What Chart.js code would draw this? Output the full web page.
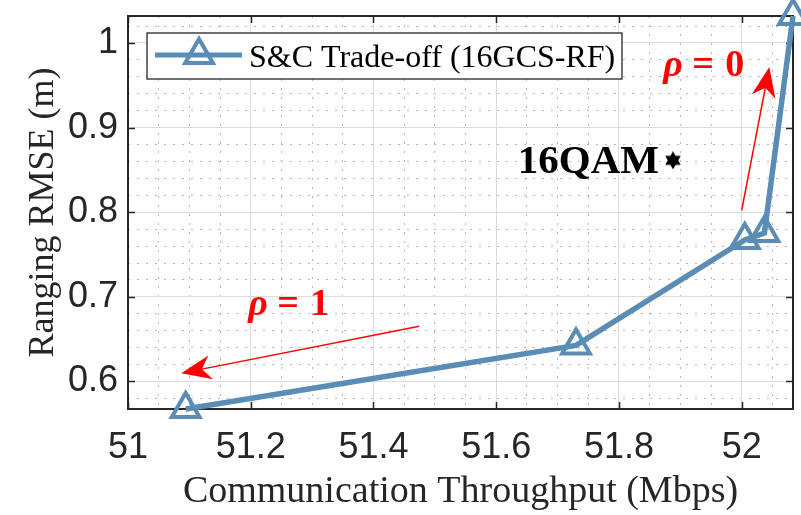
<!DOCTYPE html>
<html>
<head>
<meta charset="utf-8">
<script src="https://cdn.jsdelivr.net/npm/chart.js@4"></script>
<style>
  html, body { margin: 0; padding: 0; background: #fff; }
  #wrap { width: 801px; height: 515px; }
</style>
</head>
<body>
<div id="wrap"><canvas id="myChart" width="801" height="515"></canvas></div>
<script>
// data
const throughput = [51.094, 51.730, 52.005, 52.037, 52.0836]
const rmse = [0.5675, 0.6426, 0.7673, 0.7755, 1.0319]
const qamThroughput = [51.888]
const qamRmse = [0.8613]
const xTicks = [51, 51.2, 51.4, 51.6, 51.8, 52]
const yTicks = [0.6, 0.7, 0.8, 0.9, 1]
const seriesLabel = 'S&C Trade-off (16GCS-RF)'

const axisColor = '#262626'
const lineColor = '#5a8cb5'

// axis limits are tight on the data (x starts at 51)
const xMin = 51
const xMax = Math.max(...throughput)
const yMin = Math.min(...rmse)
const yMax = Math.max(...rmse)

function hexagram(size) {
  const c = document.createElement('canvas')
  c.width = c.height = size
  const g = c.getContext('2d')
  const r = size / 2
  g.fillStyle = '#000'
  for (const rot of [-Math.PI / 2, Math.PI / 2]) {
    g.beginPath()
    for (let i = 0; i < 3; i++) {
      const a = rot + i * 2 * Math.PI / 3
      g.lineTo(r + r * Math.cos(a), r + r * Math.sin(a))
    }
    g.closePath()
    g.fill()
  }
  return c
}

function arrow(ctx, x0, y0, x1, y1) {
  const dx = x1 - x0, dy = y1 - y0
  const len = Math.hypot(dx, dy)
  const ux = dx / len, uy = dy / len
  const L = 30, W = 12
  ctx.beginPath()
  ctx.moveTo(x0, y0)
  ctx.lineTo(x1 - ux * L * 0.7, y1 - uy * L * 0.7)
  ctx.stroke()
  ctx.beginPath()
  ctx.moveTo(x1, y1)
  ctx.lineTo(x1 - ux * L - uy * W, y1 - uy * L + ux * W)
  ctx.lineTo(x1 - ux * L * 0.7, y1 - uy * L * 0.7)
  ctx.lineTo(x1 - ux * L + uy * W, y1 - uy * L - ux * W)
  ctx.closePath()
  ctx.fill()
}

function rhoLabel(ctx, x, y, value) {
  ctx.textBaseline = 'alphabetic'
  ctx.textAlign = 'left'
  ctx.font = 'italic bold 38px "Liberation Serif"'
  ctx.fillText('ρ', x, y)
  ctx.font = 'bold 38px "Liberation Serif"'
  ctx.fillText('=', x + 29, y)
  ctx.fillText(value, x + 62, y)
}

const frame = {
  id: 'frame',
  beforeDatasetsDraw(chart) {
    const {ctx, chartArea: a, scales: {x, y}} = chart
    ctx.save()
    ctx.strokeStyle = axisColor
    ctx.lineWidth = 1.5
    ctx.beginPath()
    xTicks.forEach(v => {
      const px = Math.round(x.getPixelForValue(v)) + 0.5
      ctx.moveTo(px, a.bottom); ctx.lineTo(px, a.bottom - 7)
      ctx.moveTo(px, a.top); ctx.lineTo(px, a.top + 7)
    })
    yTicks.forEach(v => {
      const py = Math.round(y.getPixelForValue(v)) + 0.5
      ctx.moveTo(a.left, py); ctx.lineTo(a.left + 7, py)
      ctx.moveTo(a.right, py); ctx.lineTo(a.right - 7, py)
    })
    ctx.stroke()
    ctx.lineWidth = 2
    ctx.strokeRect(a.left, a.top, a.right - a.left, a.bottom - a.top)
    ctx.restore()
  },
  afterDatasetsDraw(chart) {
    const {ctx, chartArea: a, scales: {x, y}} = chart
    ctx.save()
    ctx.strokeStyle = '#ff0000'
    ctx.fillStyle = '#ff0000'
    ctx.lineWidth = 1.5
    arrow(ctx, x.getPixelForValue(51.4746), y.getPixelForValue(0.6654),
      x.getPixelForValue(51.0868), y.getPixelForValue(0.6098))
    arrow(ctx, x.getPixelForValue(52.0), y.getPixelForValue(0.8022),
      x.getPixelForValue(52.045), y.getPixelForValue(0.9716))
    rhoLabel(ctx, x.getPixelForValue(51.196), y.getPixelForValue(0.678), '1')
    rhoLabel(ctx, x.getPixelForValue(51.872), y.getPixelForValue(0.9607), '0')

    // 16QAM label next to its marker
    ctx.fillStyle = '#000'
    ctx.font = 'bold 41px "Liberation Serif"'
    ctx.textAlign = 'right'
    ctx.textBaseline = 'alphabetic'
    ctx.fillText('16QAM', x.getPixelForValue(qamThroughput[0]) - 14, y.getPixelForValue(qamRmse[0]) + 13)

    // legend box
    const lx = a.left + 19, ly = a.top + 17, lw = 475, lh = 46
    ctx.fillStyle = '#fff'
    ctx.fillRect(lx, ly, lw, lh)
    ctx.strokeStyle = axisColor
    ctx.lineWidth = 1.3
    ctx.strokeRect(lx, ly, lw, lh)
    const cy = ly + 22
    ctx.strokeStyle = lineColor
    ctx.lineWidth = 5
    ctx.beginPath()
    ctx.moveTo(lx + 8, cy); ctx.lineTo(lx + 95, cy)
    ctx.stroke()
    const r = 16, tx = lx + 52
    ctx.lineWidth = 4
    ctx.lineJoin = 'miter'
    ctx.beginPath()
    ctx.moveTo(tx, cy - r)
    ctx.lineTo(tx + r * 0.866, cy + r / 2)
    ctx.lineTo(tx - r * 0.866, cy + r / 2)
    ctx.closePath()
    ctx.stroke()
    ctx.fillStyle = '#000'
    ctx.font = '32px "Liberation Serif"'
    ctx.textAlign = 'left'
    ctx.textBaseline = 'alphabetic'
    ctx.fillText(seriesLabel, lx + 102, ly + 34)
    ctx.restore()
  }
}

const noPad = s => { s.paddingTop = 0; s.paddingBottom = 0; s.paddingLeft = 0; s.paddingRight = 0 }

const ctx = document.getElementById('myChart')

new Chart(ctx, {
  type: 'line',
  data: {
    datasets: [{
      label: seriesLabel,
      data: throughput.map((v, i) => ({x: v, y: rmse[i]})),
      borderColor: lineColor,
      borderWidth: 5.5,
      pointStyle: 'triangle',
      pointRadius: 16,
      pointBorderWidth: 4,
      pointBackgroundColor: 'rgba(0,0,0,0)',
      pointBorderColor: lineColor,
      tension: 0,
      clip: false
    }, {
      label: '16QAM',
      data: qamThroughput.map((v, i) => ({x: v, y: qamRmse[i]})),
      showLine: false,
      pointStyle: hexagram(18),
      pointRadius: 9,
      clip: false
    }]
  },
  options: {
    responsive: false,
    animation: false,
    events: [],
    layout: { autoPadding: false, padding: { top: 16, right: 8, bottom: 0, left: 0 } },
    plugins: { legend: { display: false }, tooltip: { enabled: false } },
    scales: {
      xMinor: {
        type: 'linear', position: 'bottom', min: xMin, max: xMax,
        ticks: { display: false, stepSize: 0.05, includeBounds: false },
        grid: { color: '#b8b8b8', drawTicks: false, lineWidth: 1 },
        border: { display: false, dash: [2, 7] },
        afterFit: s => { s.height = 0; noPad(s) }
      },
      yMinor: {
        type: 'linear', position: 'left', min: yMin, max: yMax,
        ticks: { display: false, stepSize: 0.02, includeBounds: false },
        grid: { color: '#b8b8b8', drawTicks: false, lineWidth: 1 },
        border: { display: false, dash: [2, 7] },
        afterFit: s => { s.width = 0; noPad(s) }
      },
      x: {
        type: 'linear', position: 'bottom', min: xMin, max: xMax,
        afterBuildTicks: s => { s.ticks = xTicks.map(v => ({value: v})) },
        afterFit: s => { s.height = 106; noPad(s) },
        ticks: {
          font: { family: 'Liberation Sans', size: 36, lineHeight: 1 },
          color: axisColor, padding: 21,
          callback: v => String(+v.toFixed(1))
        },
        grid: { color: '#dcdcdc', drawTicks: false, lineWidth: 1 },
        border: { display: false },
        title: {
          display: true, text: 'Communication Throughput (Mbps)',
          font: { family: 'Liberation Serif', size: 38, lineHeight: 1.2 },
          color: axisColor, padding: { top: 1, bottom: 0 }
        }
      },
      y: {
        type: 'linear', position: 'left', min: yMin, max: yMax,
        afterBuildTicks: s => { s.ticks = yTicks.map(v => ({value: v})) },
        afterFit: s => { s.width = 128; noPad(s) },
        ticks: {
          font: { family: 'Liberation Sans', size: 36, lineHeight: 1 },
          color: axisColor, padding: 10,
          callback: v => String(+v.toFixed(1))
        },
        grid: { color: '#dcdcdc', drawTicks: false, lineWidth: 1 },
        border: { display: false },
        title: {
          display: true, text: 'Ranging RMSE (m)',
          font: { family: 'Liberation Serif', size: 36, lineHeight: 1.2 },
          color: axisColor, padding: { top: 22, bottom: 0 }
        }
      }
    }
  },
  plugins: [frame]
})
</script>
</body>
</html>
